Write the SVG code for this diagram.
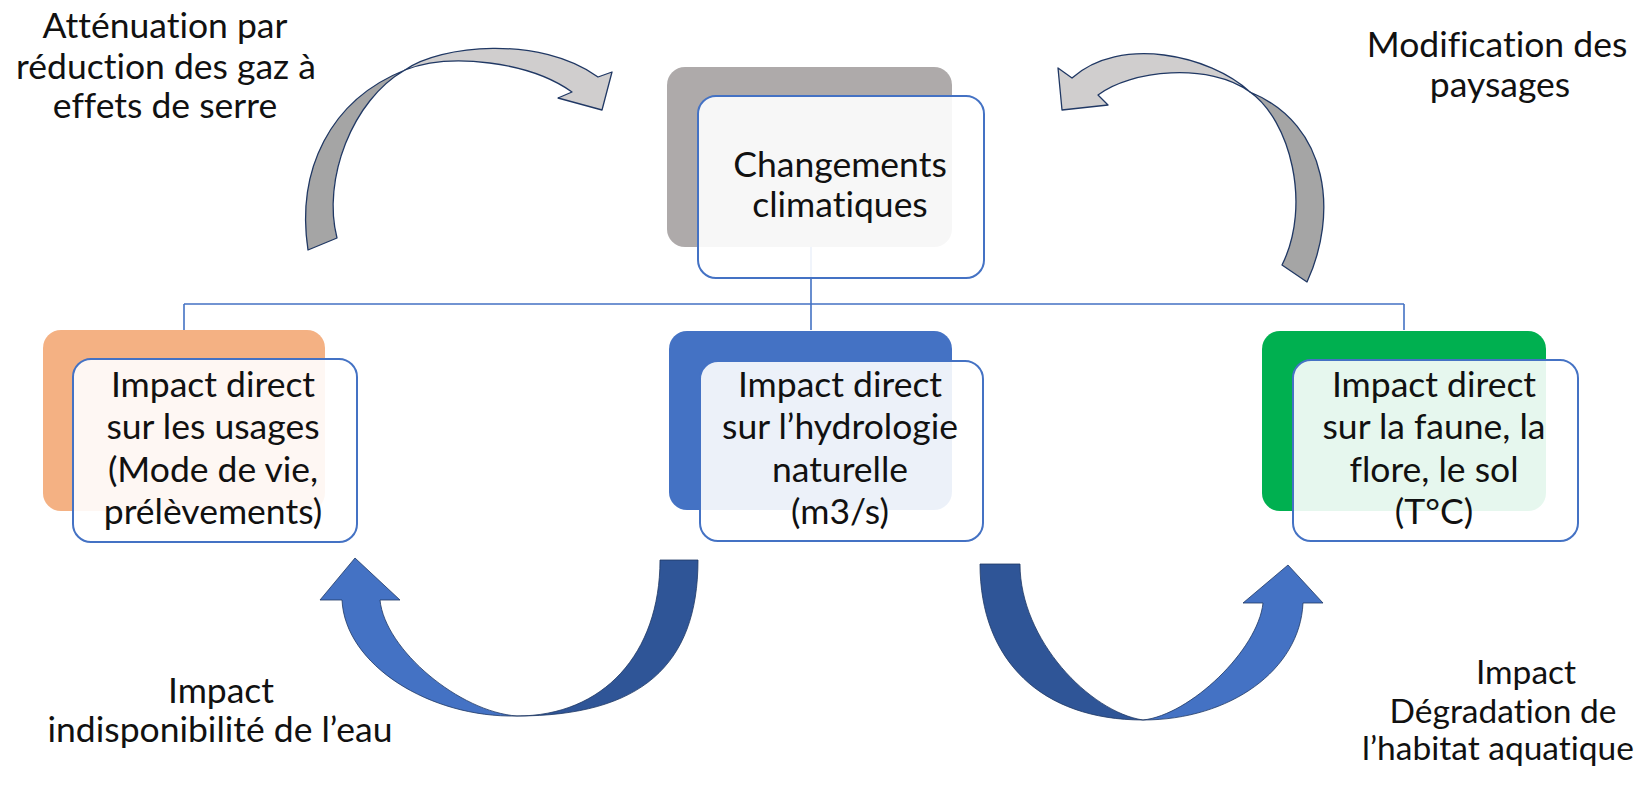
<svg xmlns="http://www.w3.org/2000/svg" width="1639" height="788" viewBox="0 0 1639 788">
<style>
text{font-family:Lato,"Liberation Sans",sans-serif;font-size:35.5px;fill:#111;text-anchor:middle;font-variant-ligatures:none;font-feature-settings:"liga" 0,"clig" 0}
.sm{font-size:33.5px}
.back{stroke:none}
.front{fill:#fff;fill-opacity:0.9;stroke:#4472C4;stroke-width:2}
.conn{fill:none;stroke:#4472C4;stroke-width:1.6}
.gd{fill:#A5A5A5;stroke:#203864;stroke-width:1.3;stroke-linejoin:round}
.gl{fill:#D0CECE;stroke:#203864;stroke-width:1.3;stroke-linejoin:round}
.bd{fill:#2F5597;stroke:#1F3864;stroke-width:0.8;stroke-linejoin:round}
.bl{fill:#4472C4;stroke:#1F3864;stroke-width:0.8;stroke-linejoin:round}
</style>
<rect width="1639" height="788" fill="#fff"/>
<g id="connectors">
<path class="conn" d="M811,247 V304 M184,304 H1404 M184,304 V330 M811,304 V330 M1404,304 V330"/>
</g>
<g id="node-changements">
<rect class="back" x="667" y="67" width="285" height="180" rx="18" fill="#AEAAAA"/>
<rect class="front" x="698" y="96" width="286" height="182" rx="18"/>
<text x="840" y="177">Changements</text>
<text x="840" y="217">climatiques</text>
</g>
<g id="node-usages">
<rect class="back" x="43" y="330" width="282" height="181" rx="18" fill="#F4B183"/>
<rect class="front" x="73" y="359" width="284" height="183" rx="18"/>
<text x="213" y="397">Impact direct</text>
<text x="213" y="439">sur les usages</text>
<text x="213" y="482">(Mode de vie,</text>
<text x="213" y="524">prélèvements)</text>
</g>
<g id="node-hydrologie">
<rect class="back" x="669" y="331" width="283" height="179" rx="18" fill="#4472C4"/>
<rect class="front" x="700" y="361" width="283" height="180" rx="18"/>
<text x="840" y="397">Impact direct</text>
<text x="840" y="439">sur l’hydrologie</text>
<text x="840" y="482">naturelle</text>
<text x="840" y="524">(m3/s)</text>
</g>
<g id="node-faune">
<rect class="back" x="1262" y="331" width="284" height="180" rx="18" fill="#00B050"/>
<rect class="front" x="1293" y="360" width="285" height="181" rx="18"/>
<text x="1434" y="397">Impact direct</text>
<text x="1434" y="439">sur la faune, la</text>
<text x="1434" y="482">flore, le sol</text>
<text x="1434" y="524">(T°C)</text>
</g>
<g id="arrow-attenuation">
<path class="gd" d="M308,250 C296,170 330,100 405,70 C352,100 322,180 337,238 Z"/>
<path class="gl" d="M405,70 C440,45 540,35 598,77 L612,72 L602,110 L558,98 L572,92 C530,62 450,52 405,70 Z"/>
</g>
<g id="arrow-paysages">
<path class="gd" d="M1307,282 C1338,215 1330,125 1250,92 C1290,120 1312,205 1282,265 Z"/>
<path class="gl" d="M1250,92 C1210,55 1120,35 1072,78 L1058,68 L1062,110 L1108,105 L1098,95 C1130,70 1210,62 1250,92 Z"/>
</g>
<g id="arrow-indisponibilite">
<path class="bd" d="M698,560 C698,666 640,716 517,716 C603,716 660,654 660,560 Z"/>
<path class="bl" d="M517,716 C430,718 345,665 342,600 L320,600 L355,558 L400,600 L380,600 C385,650 460,712 517,716 Z"/>
</g>
<g id="arrow-degradation">
<path class="bd" d="M980,564 C980,661 1042,720 1143,720 C1090,712 1020,640 1020,564 Z"/>
<path class="bl" d="M1143,720 C1230,720 1300,670 1303,603 L1323,603 L1288,565 L1243,603 L1263,603 C1258,650 1190,715 1143,720 Z"/>
</g>
<g id="labels">
<text x="165" y="38">Atténuation par</text>
<text x="166" y="79">réduction des gaz à</text>
<text x="165" y="118">effets de serre</text>
<text x="1497" y="57">Modification des</text>
<text x="1500" y="97">paysages</text>
<text x="221" y="703">Impact</text>
<text x="220" y="742">indisponibilité de l’eau</text>
<text class="sm" x="1526" y="684">Impact</text>
<text class="sm" x="1503" y="723">Dégradation de</text>
<text class="sm" x="1498" y="760">l’habitat aquatique</text>
</g>
</svg>
